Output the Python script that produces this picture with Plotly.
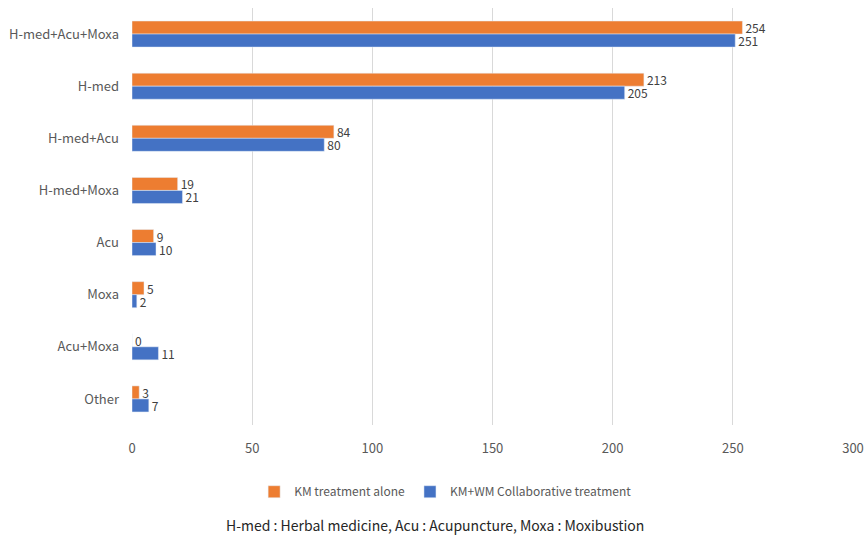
import plotly.graph_objects as go

categories = ["H-med+Acu+Moxa", "H-med", "H-med+Acu", "H-med+Moxa", "Acu", "Moxa", "Acu+Moxa", "Other"]
km_alone = [254, 213, 84, 19, 9, 5, 0, 3]
km_wm = [251, 205, 80, 21, 10, 2, 11, 7]
x_ticks = [0, 50, 100, 150, 200, 250, 300]

FONT = "Noto Sans CJK KR"
TEXT_COLOR = "#595959"

fig = go.Figure()
fig.add_trace(go.Bar(
    y=categories, x=km_alone, orientation="h", name="KM treatment alone",
    marker_color="#ED7D31", text=km_alone, textposition="outside",
    constraintext="none", textfont=dict(size=12, color="#404040"), cliponaxis=False,
))
fig.add_trace(go.Bar(
    y=categories, x=km_wm, orientation="h", name="KM+WM Collaborative treatment",
    marker_color="#4472C4", text=km_wm, textposition="outside",
    constraintext="none", textfont=dict(size=12, color="#404040"), cliponaxis=False,
))

fig.update_layout(
    width=868, height=538,
    margin=dict(l=132, r=15, t=8, b=113, autoexpand=False),
    paper_bgcolor="white", plot_bgcolor="white",
    barmode="group", bargap=0.5, bargroupgap=0,
    font=dict(family=FONT, size=13, color=TEXT_COLOR),
    showlegend=True,
    legend=dict(orientation="h", x=0.435, xanchor="center", y=-0.16, yanchor="middle",
                font=dict(size=12, color=TEXT_COLOR), itemwidth=30, traceorder="normal"),
    xaxis=dict(range=[0, 300], tickvals=x_ticks, showgrid=True, gridcolor="#D9D9D9",
               zeroline=False, showline=False, ticks="", ticklabelstandoff=14,
               automargin=False, tickfont=dict(size=13, color=TEXT_COLOR)),
    yaxis=dict(autorange="reversed", showgrid=False, zeroline=False, showline=False,
               ticks="", ticklabelstandoff=12, automargin=False,
               tickfont=dict(size=13, color=TEXT_COLOR)),
)

fig.add_annotation(
    text="H-med : Herbal medicine, Acu : Acupuncture, Moxa : Moxibustion",
    xref="paper", yref="paper", x=0.42, y=-0.24, xanchor="center", yanchor="middle",
    showarrow=False, font=dict(size=14, color="#262626", family=FONT),
)

fig.write_html("out.html")
